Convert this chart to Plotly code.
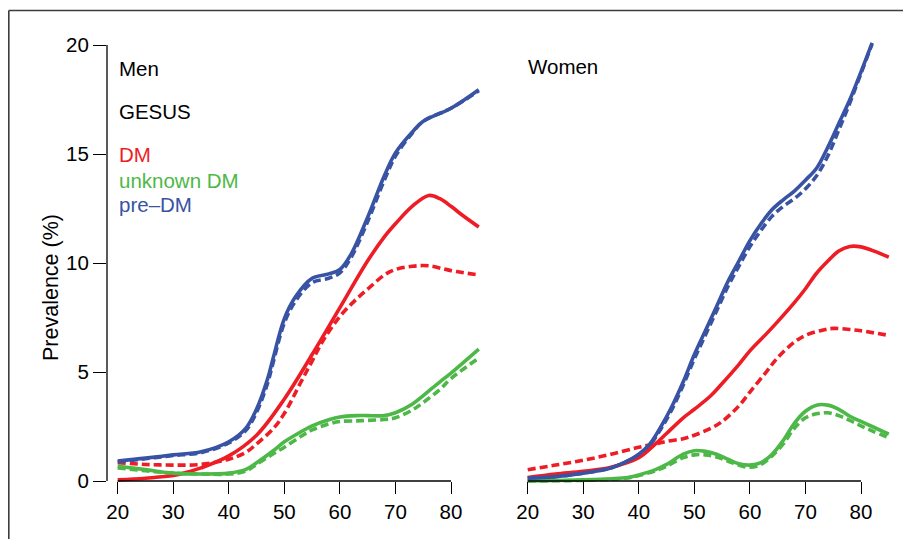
import plotly.graph_objects as go

# ---------------- data ----------------
# Men
men_age = [20, 25, 30, 35, 40, 43, 45, 47, 48, 50, 52, 55, 58, 60, 62, 65, 68, 70, 73, 75, 80, 85]
men_pre_solid = [0.92, 1.05, 1.2, 1.34, 1.8, 2.4, 3.3, 4.7, 5.65, 7.45, 8.45, 9.3, 9.5, 9.7, 10.4, 12.1, 14.0, 15.05, 16.0, 16.5, 17.1, 17.95]
men_pre_dash = [0.88, 1.02, 1.17, 1.3, 1.75, 2.3, 3.15, 4.5, 5.45, 7.25, 8.25, 9.1, 9.3, 9.55, 10.25, 11.9, 13.8, 14.9, 15.95, 16.5, 17.1, 17.9]

men_dm_age = [20, 25, 30, 33, 35, 40, 45, 50, 55, 60, 65, 68, 70, 73, 76, 78, 80, 82, 85]
men_dm_solid = [0.05, 0.13, 0.25, 0.44, 0.6, 1.15, 2.1, 3.76, 5.8, 7.95, 10.1, 11.2, 11.8, 12.6, 13.1, 12.95, 12.6, 12.2, 11.65]

men_dmd_age = [20, 25, 30, 35, 40, 43, 45, 48, 50, 53, 55, 57, 60, 63, 65, 68, 70, 73, 76, 80, 85]
men_dm_dash = [0.84, 0.76, 0.73, 0.76, 1.0, 1.3, 1.7, 2.4, 3.1, 4.55, 5.5, 6.45, 7.55, 8.35, 8.8, 9.45, 9.7, 9.85, 9.87, 9.65, 9.45]

men_unk_age = [20, 25, 30, 35, 40, 43, 45, 48, 50, 53, 55, 58, 60, 63, 65, 68, 70, 73, 75, 78, 80, 85]
men_unk_solid = [0.68, 0.52, 0.36, 0.32, 0.36, 0.52, 0.84, 1.39, 1.8, 2.26, 2.53, 2.81, 2.94, 3.0, 3.0, 3.0, 3.13, 3.52, 3.92, 4.55, 4.95, 6.05]
men_unk_dash = [0.6, 0.47, 0.36, 0.32, 0.32, 0.45, 0.76, 1.25, 1.55, 2.05, 2.34, 2.62, 2.73, 2.76, 2.78, 2.82, 2.9, 3.25, 3.6, 4.2, 4.7, 5.64]

# Women
wom_age = [20, 25, 30, 35, 38, 40, 42, 44, 46, 48, 50, 52, 54, 56, 58, 60, 62, 64, 66, 68, 70, 72, 74, 76, 78, 80, 82]
wom_pre_solid = [0.13, 0.2, 0.36, 0.6, 0.92, 1.23, 1.7, 2.5, 3.44, 4.55, 5.8, 6.9, 8.0, 9.13, 10.08, 11.03, 11.8, 12.45, 12.9, 13.3, 13.8, 14.35, 15.3, 16.4, 17.5, 18.77, 20.1]
wom_pre_dash = [0.13, 0.2, 0.36, 0.6, 0.92, 1.2, 1.65, 2.4, 3.3, 4.4, 5.6, 6.7, 7.8, 8.9, 9.85, 10.75, 11.5, 12.15, 12.6, 12.95, 13.4, 14.0, 14.9, 16.1, 17.35, 18.7, 20.05]

wom_dm_age = [20, 25, 30, 35, 40, 43, 45, 48, 50, 53, 55, 58, 60, 63, 65, 68, 70, 72, 74, 76, 78, 80, 82, 85]
wom_dm_solid = [0.16, 0.32, 0.44, 0.63, 1.07, 1.7, 2.18, 2.9, 3.29, 3.92, 4.47, 5.34, 5.97, 6.76, 7.31, 8.18, 8.82, 9.53, 10.08, 10.55, 10.76, 10.74, 10.58, 10.27]

wom_dmd_age = [20, 25, 30, 35, 40, 43, 45, 48, 50, 53, 55, 58, 60, 63, 65, 68, 70, 73, 75, 78, 80, 85]
wom_dm_dash = [0.52, 0.73, 0.95, 1.23, 1.55, 1.7, 1.82, 1.94, 2.1, 2.42, 2.73, 3.44, 4.08, 5.02, 5.66, 6.37, 6.68, 6.92, 7.0, 6.95, 6.89, 6.68]

wom_unk_age = [20, 25, 30, 35, 38, 40, 43, 45, 48, 50, 52, 54, 56, 58, 60, 62, 64, 66, 68, 70, 72, 74, 76, 78, 80, 82, 85]
wom_unk_solid = [0.0, 0.02, 0.05, 0.1, 0.16, 0.28, 0.52, 0.76, 1.23, 1.39, 1.36, 1.23, 1.0, 0.79, 0.73, 0.84, 1.23, 1.86, 2.65, 3.2, 3.48, 3.48, 3.29, 2.97, 2.73, 2.5, 2.15]
wom_unk_dash = [0.0, 0.01, 0.03, 0.08, 0.14, 0.25, 0.47, 0.68, 1.07, 1.2, 1.2, 1.1, 0.92, 0.73, 0.63, 0.76, 1.15, 1.7, 2.42, 2.9, 3.08, 3.13, 3.0, 2.78, 2.53, 2.3, 1.99]

x_ticks = [20, 30, 40, 50, 60, 70, 80]
y_ticks = [0, 5, 10, 15, 20]
legend_labels = ["DM", "unknown DM", "pre\u2013DM"]

RED = "#EE1D25"
GREEN = "#4DB848"
BLUE = "#3953A4"
FONT = "Liberation Sans, Arial, Helvetica, sans-serif"

# ---------------- layout geometry (page pixels) ----------------
PAGE_W, PAGE_H = 911, 539
OFF = 8                      # default body margin of the html page
W, H = PAGE_W - OFF, PAGE_H - OFF
PLOT_L, PLOT_R, PLOT_T, PLOT_B = 107, 897, 36, 490   # page pixels
ML, MR, MT, MB = PLOT_L - OFF, PAGE_W - PLOT_R, PLOT_T - OFF, PAGE_H - PLOT_B
PW, PH = PLOT_R - PLOT_L, PLOT_B - PLOT_T
PX_PER_YEAR = 5.555
Y0_PX, Y20_PX = 481, 45
PX_PER_UNIT = (Y0_PX - Y20_PX) / 20.0

def paper_x(px):
    return (px - PLOT_L) / PW

def paper_y(py):
    return (PLOT_B - py) / PH

men_x20 = 117.7
wom_x20 = 527.7
men_range = [20 - (men_x20 - PLOT_L) / PX_PER_YEAR, 86.5]
men_right_px = men_x20 + (men_range[1] - 20) * PX_PER_YEAR
wom_range = [19, 20 + (PLOT_R - wom_x20) / PX_PER_YEAR]
wom_left_px = wom_x20 + (wom_range[0] - 20) * PX_PER_YEAR
y_range = [-(PLOT_B - Y0_PX) / PX_PER_UNIT, 20 + (Y20_PX - PLOT_T) / PX_PER_UNIT]

fig = go.Figure()

LW = 3.6
DASH = "8px,4px"

def add(x, y, color, dash, xa):
    fig.add_trace(go.Scatter(
        x=x, y=y, mode="lines", xaxis=xa, yaxis="y",
        line=dict(color=color, width=LW, dash=dash, shape="spline", smoothing=1.0),
        showlegend=False, hoverinfo="skip"))

# Men
add(men_dmd_age, men_dm_dash, RED, DASH, "x")
add(men_unk_age, men_unk_dash, GREEN, DASH, "x")
add(men_age, men_pre_dash, BLUE, DASH, "x")
add(men_dm_age, men_dm_solid, RED, "solid", "x")
add(men_unk_age, men_unk_solid, GREEN, "solid", "x")
add(men_age, men_pre_solid, BLUE, "solid", "x")
# Women
add(wom_dmd_age, wom_dm_dash, RED, DASH, "x2")
add(wom_unk_age, wom_unk_dash, GREEN, DASH, "x2")
add(wom_age, wom_pre_dash, BLUE, DASH, "x2")
add(wom_dm_age, wom_dm_solid, RED, "solid", "x2")
add(wom_unk_age, wom_unk_solid, GREEN, "solid", "x2")
add(wom_age, wom_pre_solid, BLUE, "solid", "x2")

tickfont = dict(family=FONT, size=20.5, color="black")
xpos = paper_y(Y0_PX)

common_x = dict(anchor="free", position=xpos, tickmode="array", tickvals=x_ticks,
                ticktext=[str(v) for v in x_ticks], ticks="outside", ticklen=12,
                tickwidth=1.3, tickcolor="black", showline=False, showgrid=False,
                zeroline=False, tickfont=tickfont, fixedrange=True)

fig.update_layout(
    width=W, height=H,
    margin=dict(l=ML, r=MR, t=MT, b=MB, pad=0),
    paper_bgcolor="white", plot_bgcolor="white",
    showlegend=False,
    xaxis=dict(domain=[0, paper_x(men_right_px)], range=men_range, **common_x),
    xaxis2=dict(domain=[paper_x(wom_left_px), 1], range=wom_range, **common_x),
    yaxis=dict(range=y_range, anchor="x", tickmode="array", tickvals=y_ticks,
               ticktext=[str(v) for v in y_ticks], ticks="outside", ticklen=13,
               tickwidth=1.3, tickcolor="black", showline=False, showgrid=False,
               zeroline=False, tickfont=tickfont, fixedrange=True),
)

shapes = []
# axis lines (R style: from first to last tick)
shapes.append(dict(type="line", xref="paper", yref="y", x0=0, x1=0,
                   y0=y_ticks[0], y1=y_ticks[-1], line=dict(color="black", width=1.3)))
shapes.append(dict(type="line", xref="x", yref="y", x0=x_ticks[0], x1=x_ticks[-1],
                   y0=0, y1=0, line=dict(color="black", width=1.3)))
shapes.append(dict(type="line", xref="x2", yref="y", x0=x_ticks[0], x1=x_ticks[-1],
                   y0=0, y1=0, line=dict(color="black", width=1.3)))
# outer frame (left and top edges)
shapes.append(dict(type="line", xref="paper", yref="paper", x0=paper_x(8.8), x1=paper_x(8.8),
                   y0=paper_y(10.5), y1=paper_y(PAGE_H + 2), line=dict(color="#3c3c3c", width=1.6)))
shapes.append(dict(type="line", xref="paper", yref="paper", x0=paper_x(8.8), x1=paper_x(PAGE_W + 2),
                   y0=paper_y(10.5), y1=paper_y(10.5), line=dict(color="#3c3c3c", width=1.6)))
fig.update_layout(shapes=shapes)

def txt(text, px, py, color="black", size=20.5, angle=0, xanchor="left"):
    fig.add_annotation(text=text, xref="paper", yref="paper", x=paper_x(px), y=paper_y(py),
                       xanchor=xanchor, yanchor="middle", showarrow=False, textangle=angle,
                       font=dict(family=FONT, size=size, color=color))

txt("Men", 117, 68)
txt("GESUS", 117, 111.5)
txt(legend_labels[0], 117, 154.5, RED)
txt(legend_labels[1], 117, 180, GREEN)
txt(legend_labels[2], 117, 204, BLUE)
txt("Women", 526, 67)
txt("Prevalence (%)", 51, 288, angle=-90, xanchor="center", size=21.5)

fig.write_html("out.html")
